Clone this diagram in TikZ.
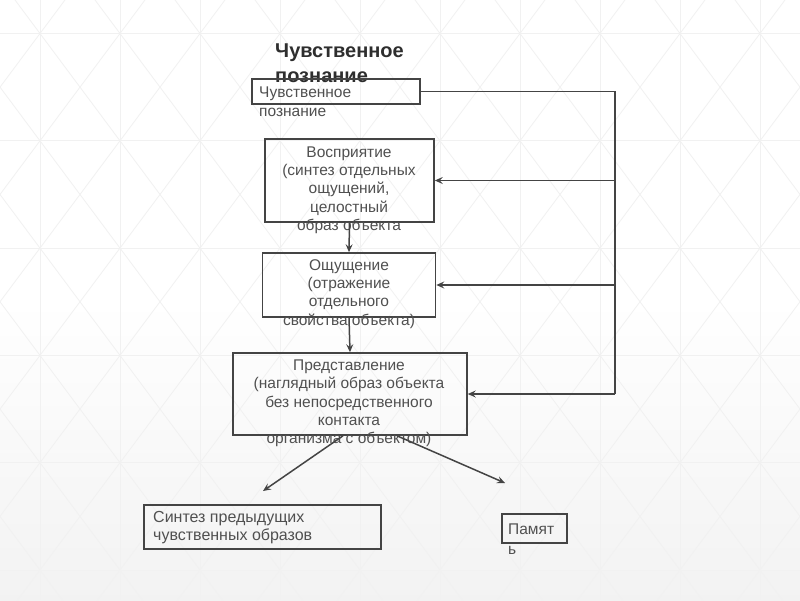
\documentclass[tikz,border=0pt]{standalone}
\usepackage{fontspec}
\setmainfont{Liberation Sans}
\usetikzlibrary{arrows.meta}
\definecolor{linec}{HTML}{444444}
\definecolor{textc}{HTML}{505050}
\definecolor{titlec}{HTML}{2E2E2E}
\definecolor{gridc}{HTML}{F1F1F1}
\begin{document}
\begin{tikzpicture}[x=1pt,y=-1pt,
  box/.style={draw=linec,line width=1.6pt,inner sep=0pt},
  txt/.style={text=textc,inner sep=0pt,font=\fontsize{15.5}{18.3}\selectfont},
  ttl/.style={text=titlec,inner sep=0pt,align=left,font=\fontsize{20}{25}\selectfont\bfseries},
  wire/.style={draw=linec,line width=1.5pt},
  arr/.style={wire,-{Stealth[length=8pt,width=7pt,inset=3pt]}},
  grid line/.style={draw=gridc,line width=0.8pt}]
% background
\useasboundingbox (0,0) rectangle (800,600);
\fill[white] (0,0) rectangle (800,600);
\shade[top color=white,bottom color=black!5] (0,300) rectangle (800,600);
\begin{scope}
\clip (0,0) rectangle (800,600);
\foreach \i in {0,...,9} \draw[grid line] (40+80*\i,0) -- (40+80*\i,600);
\foreach \j in {0,...,5} \draw[grid line] (0,33.5+107.3*\j) -- (800,33.5+107.3*\j);
\foreach \i in {-1,...,9}{
  \foreach \j in {-1,...,5}{
    \draw[grid line] (40+80*\i,33.5+107.3*\j) -- (120+80*\i,140.8+107.3*\j);
    \draw[grid line] (120+80*\i,33.5+107.3*\j) -- (40+80*\i,140.8+107.3*\j);
  }
}
\end{scope}
% title
\node[ttl,anchor=west] (title) at (275,63.5) {Чувственное\\познание};
% boxes
\node[box,minimum width=168pt,minimum height=25pt] (b1) at (336,91.5) {};
\node[box,minimum width=169pt,minimum height=83pt] (b2) at (349.5,180.5) {};
\node[box,minimum width=173pt,minimum height=64pt] (b3) at (349,285) {};
\node[box,minimum width=234pt,minimum height=82pt] (b4) at (350,394) {};
\node[box,minimum width=237pt,minimum height=44pt] (b5) at (262.5,527) {};
\node[box,minimum width=65pt,minimum height=29pt] (b6) at (534.5,528.5) {};
% texts
\node[txt,align=left,anchor=west,font=\fontsize{15.5}{19}\selectfont] (t1) at (259,101.5) {Чувственное\\познание};
\node[txt,align=center] (t2) at (349,190) {Восприятие\\(синтез отдельных\\ощущений,\\целостный\\образ объекта};
\node[txt,align=center] (t3) at (349,294) {Ощущение\\(отражение\\отдельного\\свойства объекта)};
\node[txt,align=center] (t4) at (349,403.5) {Представление\\(наглядный образ объекта\\без непосредственного\\контакта\\организма с объектом)};
\node[txt,align=left,anchor=west,font=\fontsize{16}{18}\selectfont] (t5) at (153,528) {Синтез предыдущих\\чувственных образов};
\node[txt,align=left,anchor=west,font=\fontsize{15.5}{20.5}\selectfont] (t6) at (508,539) {Памят\\ь};
% connectors
\coordinate (c1) at (615,91.5);
\coordinate (j2) at (615,180.5);
\coordinate (j3) at (615,285);
\coordinate (j4) at (615,394);
\coordinate (e1) at (263,491);
\coordinate (e2) at (505,483);
\draw[wire] (b1.east) -- (c1) -- (j4);
\draw[arr] (j2) -- (b2.east);
\draw[arr] (j3) -- (b3.east);
\draw[arr] (j4) -- (b4.east);
\draw[arr] (b2.south) -- (b3.north);
\draw[arr] (b3.south) -- (b4.north);
\draw[arr] ([xshift=-7pt]b4.south) -- (e1);
\draw[arr] ([xshift=47pt]b4.south) -- (e2);
\end{tikzpicture}
\end{document}
